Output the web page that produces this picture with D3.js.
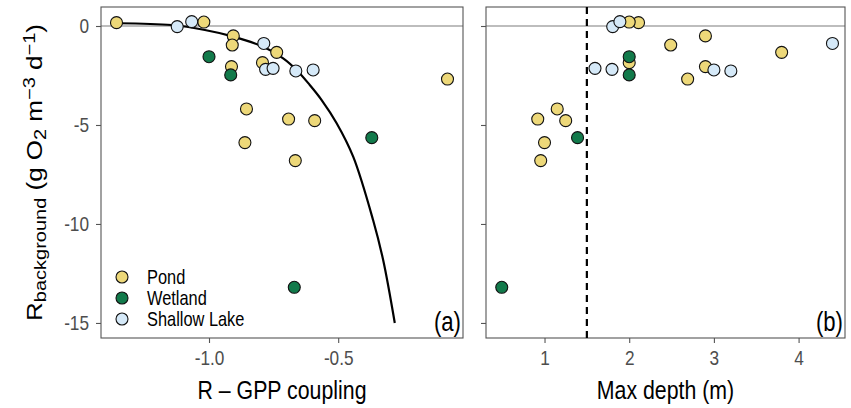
<!DOCTYPE html>
<html>
<head>
<meta charset="utf-8">
<script src="https://cdn.jsdelivr.net/npm/d3@7"></script>
<style>
  body { margin: 0; background: #fff; }
  svg { display: block; font-family: "Liberation Sans", Arial, sans-serif; }
</style>
</head>
<body>
<svg width="851" height="408"></svg>
<script>
// site data: one row per water body
var types    = ['Pond','Pond','Pond','Pond','Pond','Pond','Pond','Pond','Pond','Pond','Pond','Pond','Pond',
                'Wetland','Wetland','Wetland','Wetland',
                'Shallow Lake','Shallow Lake','Shallow Lake','Shallow Lake','Shallow Lake','Shallow Lake','Shallow Lake']
var coupling = [-1.358,-1.02,-0.906,-0.910,-0.738,-0.793,-0.913,-0.077,-0.855,-0.692,-0.591,-0.861,-0.666,
                -1.0,-0.916,-0.370,-0.670,
                -1.123,-1.067,-0.788,-0.781,-0.752,-0.664,-0.597]
var depth    = [2.11,2.0,2.90,2.49,3.80,2.0,2.90,2.69,1.15,0.92,1.25,1.0,0.955,
                2.0,2.0,1.39,0.495,
                1.805,1.89,4.40,1.797,1.596,3.20,3.0]
var rbg      = [0.17,0.2,-0.5,-0.96,-1.33,-1.85,-2.05,-2.68,-4.19,-4.70,-4.78,-5.89,-6.80,
                -1.55,-2.47,-5.64,-13.2,
                -0.03,0.22,-0.88,-2.19,-2.14,-2.27,-2.22]

// fitted curve in panel (a)
var fitX = [-1.351,-1.145,-1.016,-0.913,-0.790,-0.713,-0.661,-0.610,-0.564,-0.506,-0.442,-0.365,-0.326,-0.281]
var fitY = [0.14,0.05,-0.20,-0.51,-1.05,-1.63,-2.22,-2.98,-3.74,-4.91,-6.60,-9.80,-11.82,-15.0]

var legendTypes = ['Pond','Wetland','Shallow Lake']
var colors = {'Pond':'#EDD879','Wetland':'#127A4B','Shallow Lake':'#D5E9F8'}
var yTicks = [0,-5,-10,-15]
var xTicksA = [-1.0,-0.5]
var xTicksB = [1,2,3,4]
var depthCut = 1.5

var data = types.map((t,i)=>({type:t, coupling:coupling[i], depth:depth[i], rbg:rbg[i]}))

var svg = d3.select('svg'),
    top_ = 7, bottom = 338,
    y = d3.scaleLinear().domain([-15.76, 0.96]).range([bottom, top_]),
    xA = d3.scaleLinear().domain([-1.418, -0.017]).range([101, 463]),
    xB = d3.scaleLinear().domain([0.309, 4.548]).range([486, 845]),
    frame = '#555555', tickCol = '#4d4d4d',
    sq = 0.82,   // text in the figure is horizontally condensed
    minus = s=>s.replace('\u2212','-')

// squeeze text horizontally, keeping its anchor point in place
function squeeze(sel){
    sel.each(function(){
        var t = d3.select(this), x = +(t.attr('x') || 0)
        t.attr('x', x/sq).attr('transform','scale('+sq+',1)')
    })
}

function panel(x, ticks, fmt, label, showY){
    var g = svg.append('g')
    var x0 = x.range()[0], x1 = x.range()[1]

    // zero line
    g.append('line')
        .attr('x1',x0).attr('x2',x1)
        .attr('y1',y(0)).attr('y2',y(0))
        .attr('stroke','#bdbdbd').attr('stroke-width',1.8)

    var xAxis = g.append('g')
        .attr('transform','translate(0,'+bottom+')')
        .call(d3.axisBottom(x).tickValues(ticks).tickFormat(d=>minus(fmt(d))).tickSize(5).tickPadding(7))
    var yAxis = g.append('g')
        .attr('transform','translate('+x0+',0)')
        .call(d3.axisLeft(y).tickValues(yTicks).tickFormat(d=>showY ? minus(d3.format('d')(d)) : '').tickSize(5).tickPadding(7))

    ;[xAxis,yAxis].forEach(a=>{
        a.select('.domain').remove()
        a.selectAll('line').attr('stroke',frame).attr('stroke-width',1.1)
        a.selectAll('text').attr('fill',tickCol).style('font-size','21px').call(squeeze)
    })

    g.append('rect')
        .attr('x',x0).attr('y',top_)
        .attr('width',x1-x0).attr('height',bottom-top_)
        .attr('fill','none').attr('stroke',frame).attr('stroke-width',1.1)

    g.append('text')
        .attr('x',x1-2).attr('y',bottom-7)
        .attr('text-anchor','end')
        .style('font-size','27px')
        .text(label)
        .call(squeeze)
    return g
}

var gA = panel(xA, xTicksA, d3.format('.1f'), '(a)', true)
var gB = panel(xB, xTicksB, d3.format('d'), '(b)', false)

// fitted line
gA.append('path')
    .datum(fitX.map((v,i)=>[v,fitY[i]]))
    .attr('d', d3.line().x(d=>xA(d[0])).y(d=>y(d[1])).curve(d3.curveCatmullRom))
    .attr('fill','none').attr('stroke','#000').attr('stroke-width',2.2)

// depth threshold
gB.append('line')
    .attr('x1',xB(depthCut)).attr('x2',xB(depthCut))
    .attr('y1',top_).attr('y2',bottom)
    .attr('stroke','#000').attr('stroke-width',2.2)
    .attr('stroke-dasharray','7,5')

function points(g, x, key){
    g.selectAll('.pt')
        .data(data)
        .enter().append('circle')
        .attr('class','pt')
        .attr('cx',d=>x(d[key]))
        .attr('cy',d=>y(d.rbg))
        .attr('r',6)
        .attr('fill',d=>colors[d.type])
        .attr('stroke','#111').attr('stroke-width',1.1)
}
points(gA, xA, 'coupling')
points(gB, xB, 'depth')

// legend
var leg = gA.selectAll('.leg')
    .data(legendTypes)
    .enter().append('g')
    .attr('transform',(d,i)=>'translate(122,'+(277+i*21)+')')
leg.append('circle').attr('r',6)
    .attr('fill',d=>colors[d]).attr('stroke','#111').attr('stroke-width',1.1)
leg.append('text')
    .attr('x',25).attr('dy','0.36em')
    .style('font-size','20px')
    .text(d=>d)
    .call(squeeze)

// axis titles
svg.append('text')
    .attr('x',(xA.range()[0]+xA.range()[1])/2).attr('y',399)
    .attr('text-anchor','middle').style('font-size','26px')
    .text('R \u2013 GPP coupling')
    .call(squeeze)
svg.append('text')
    .attr('x',(xB.range()[0]+xB.range()[1])/2).attr('y',399)
    .attr('text-anchor','middle').style('font-size','26px')
    .text('Max depth (m)')
    .call(squeeze)

var yt = svg.append('text')
    .attr('transform','translate(42,'+((top_+bottom)/2)+') scale('+sq+',1) rotate(-90)')
    .attr('text-anchor','middle')
    .style('font-size','26px')
yt.append('tspan').text('R')
yt.append('tspan').attr('baseline-shift','-25%').style('font-size','20px').text('background')
yt.append('tspan').text(' (g O')
yt.append('tspan').attr('baseline-shift','-25%').style('font-size','20px').text('2')
yt.append('tspan').text(' m')
yt.append('tspan').attr('baseline-shift','45%').style('font-size','20px').text('\u22123')
yt.append('tspan').text(' d')
yt.append('tspan').attr('baseline-shift','45%').style('font-size','20px').text('\u22121')
yt.append('tspan').text(')')
</script>
</body>
</html>
